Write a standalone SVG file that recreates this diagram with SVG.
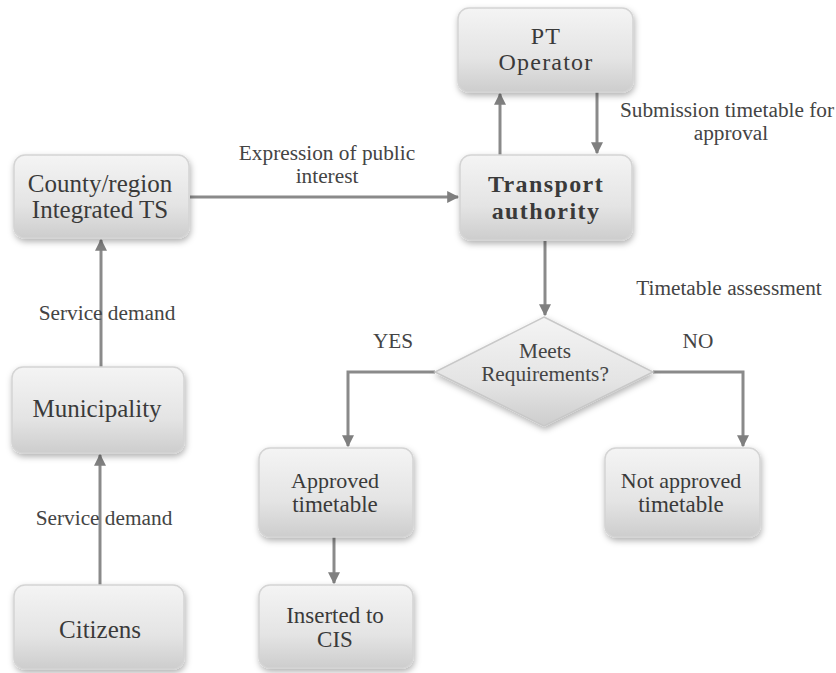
<svg xmlns="http://www.w3.org/2000/svg" width="836" height="673" viewBox="0 0 836 673">
<defs>
<linearGradient id="g" x1="0" y1="0" x2="0" y2="1">
<stop offset="0" stop-color="#f4f4f4"/>
<stop offset="0.6" stop-color="#e4e4e4"/>
<stop offset="1" stop-color="#cdcdcd"/>
</linearGradient>
<filter id="sh" x="-20%" y="-20%" width="140%" height="150%">
<feDropShadow dx="1" dy="3" stdDeviation="3" flood-color="#000" flood-opacity="0.3"/>
</filter>
<marker id="ah" viewBox="0 0 10 10" refX="9" refY="5" markerWidth="4" markerHeight="4" orient="auto">
<path d="M0,0 L10,5 L0,10 z" fill="#7f7f7f"/>
</marker>
<style>
.box{fill:url(#g);stroke:#d4d4d4;stroke-width:1.5;filter:url(#sh)}
.nt{font-size:23px;fill:#3a3a3a;text-anchor:middle}
.big{font-size:25px}
.pt{font-size:24px;letter-spacing:1.2px}
.b{font-weight:bold;font-size:24px;letter-spacing:1.4px}
.s22{font-size:22px}
.lt{font-size:21.3px;fill:#444;text-anchor:middle}
.ca{fill:none;stroke:#8a8a8a;stroke-width:3;marker-end:url(#ah)}
</style>
</defs>
<rect width="836" height="673" fill="#ffffff"/>

<g id="connectors">
<line class="ca" x1="190" y1="197" x2="458" y2="197"/>
<line class="ca" x1="500" y1="155" x2="500" y2="94"/>
<line class="ca" x1="597" y1="92" x2="597" y2="153"/>
<line class="ca" x1="545" y1="241" x2="545" y2="315"/>
<polyline class="ca" points="435,372 348,372 348,446"/>
<polyline class="ca" points="653,372 743,372 743,446"/>
<line class="ca" x1="334" y1="537" x2="334" y2="583"/>
<line class="ca" x1="101" y1="367" x2="101" y2="240"/>
<line class="ca" x1="100" y1="585" x2="100" y2="455"/>
</g>

<g font-family="Liberation Serif, DejaVu Serif, serif">
<g id="labels">
<text class="lt" x="327" y="160">Expression of public</text>
<text class="lt" x="327" y="183">interest</text>
<text class="lt" x="727" y="117">Submission timetable for</text>
<text class="lt" x="731" y="140">approval</text>
<text class="lt" x="729" y="295">Timetable assessment</text>
<text class="lt" x="393" y="348">YES</text>
<text class="lt" x="698" y="348">NO</text>
<text class="lt" x="107" y="320">Service demand</text>
<text class="lt" x="104" y="525">Service demand</text>
</g>

<g id="pt-operator">
<rect class="box" x="458" y="8" width="175" height="84" rx="11"/>
<text class="nt pt" x="546" y="44">PT</text>
<text class="nt pt" x="546" y="70">Operator</text>
</g>

<g id="county">
<rect class="box" x="14" y="155" width="175" height="83" rx="11"/>
<text class="nt big" x="100" y="192">County/region</text>
<text class="nt big" x="100" y="218">Integrated TS</text>
</g>

<g id="transport-authority">
<rect class="box" x="460" y="155" width="172" height="85" rx="11"/>
<text class="nt b" x="546" y="192">Transport</text>
<text class="nt b" x="546" y="219">authority</text>
</g>

<g id="decision">
<polygon points="544,317 653,372 544,426 435,372" fill="url(#g)" stroke="#c8c8c8" stroke-width="1.5" filter="url(#sh)"/>
<text class="lt" x="545" y="358">Meets</text>
<text class="lt" x="545" y="381">Requirements?</text>
</g>

<g id="municipality">
<rect class="box" x="12" y="367" width="172" height="86" rx="11"/>
<text class="nt big" x="97" y="417">Municipality</text>
</g>

<g id="approved">
<rect class="box" x="259" y="448" width="154" height="89" rx="11"/>
<text class="nt s22" x="335" y="488">Approved</text>
<text class="nt" x="335" y="512">timetable</text>
</g>

<g id="not-approved">
<rect class="box" x="605" y="448" width="155" height="89" rx="11"/>
<text class="nt s22" x="681" y="488">Not approved</text>
<text class="nt" x="681" y="512">timetable</text>
</g>

<g id="inserted">
<rect class="box" x="259" y="585" width="154" height="83" rx="11"/>
<text class="nt" x="335" y="623">Inserted to</text>
<text class="nt" x="335" y="647">CIS</text>
</g>

<g id="citizens">
<rect class="box" x="14" y="585" width="170" height="84" rx="11"/>
<text class="nt big" x="100" y="638">Citizens</text>
</g>
</g>
</svg>
